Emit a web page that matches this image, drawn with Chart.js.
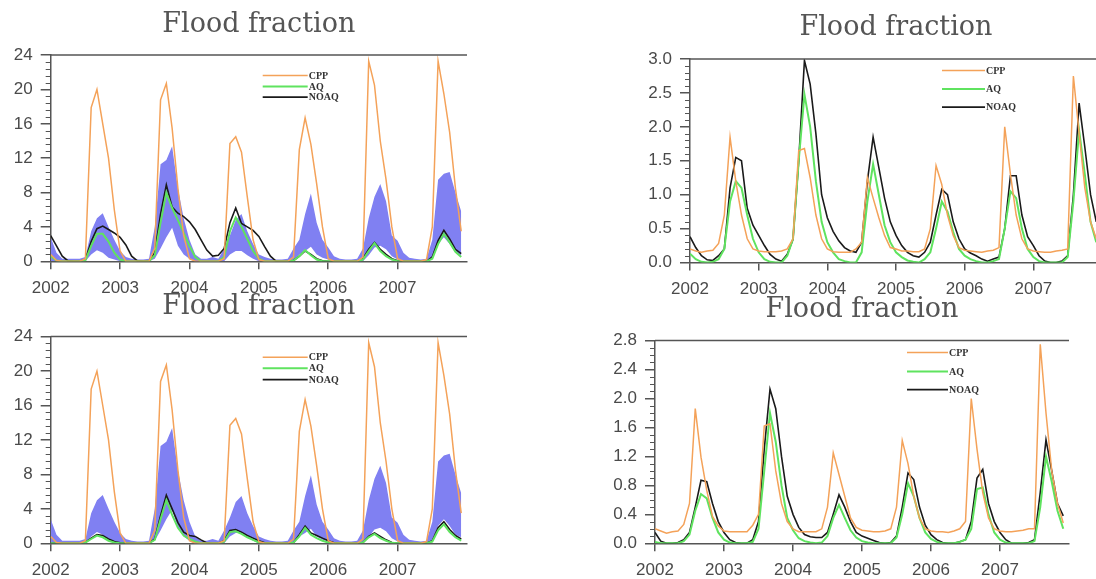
<!DOCTYPE html>
<html>
<head>
<meta charset="utf-8">
<title>Flood fraction</title>
<script src="https://cdn.jsdelivr.net/npm/chart.js@4.4.1/dist/chart.umd.min.js"></script>
<style>
  html, body { margin:0; padding:0; background:#fff; }
  body { width:1096px; height:579px; position:relative; overflow:hidden; }
  canvas { position:absolute; }
</style>
</head>
<body>
<canvas id="tl" width="548" height="300" style="left:0;top:0"></canvas>
<canvas id="tr" width="560" height="300" style="left:548px;top:0"></canvas>
<canvas id="bl" width="548" height="289" style="left:0;top:290px"></canvas>
<canvas id="br" width="548" height="289" style="left:548px;top:290px"></canvas>
<script>
// monthly series, Jan 2002 .. Dec 2007 (72 values each)
const firstYear = 2002;
const yearLabels = ['2002', '2003', '2004', '2005', '2006', '2007'];
const leftTicks = [0, 4, 8, 12, 16, 20, 24];
const topRightTicks = [0, 0.5, 1, 1.5, 2, 2.5, 3];
const bottomRightTicks = [0, 0.4, 0.8, 1.2, 1.6, 2, 2.4, 2.8];

const cppLeft = [0.8,0.1,0,0,0,0,0.3,17.9,20,16,12,6,
  1.2,0,0,0,0,0,1.5,18.8,20.7,15.5,8.5,3,
  0.3,0,0,0,0,0,0.3,13.7,14.5,12.7,7.5,2.5,
  0.2,0,0,0,0,0,0.5,13,16.7,13.6,9,4,
  0.3,0,0,0,0,0,0.5,23.3,20.5,14,9.5,4,
  0.3,0,0,0,0,0.2,4,23.3,19.5,15,8.5,3.5];
const aqTopLeft = [0.6,0.1,0,0,0,0,0.1,1.8,3.2,3.2,2.3,1.0,
  0.2,0,0,0,0,0,0.7,4.5,8.0,6.2,4.8,3.3,
  1.8,0.5,0,0,0,0,0.5,3.5,5.1,4.0,2.6,1.2,
  0.3,0,0,0,0,0,0.1,0.6,1.3,0.7,0.2,0,
  0,0,0,0,0,0,0.2,1.2,2.1,1.2,0.6,0.2,
  0,0,0,0,0,0,0.3,2.0,3.2,2.2,1.1,0.5];
const noaqTopLeft = [3.0,1.8,0.6,0.05,0,0,0.2,2.3,3.8,4.1,3.7,3.3,
  2.8,1.9,0.6,0.05,0,0,1.0,5.5,8.9,6.3,5.6,5.2,
  4.6,3.7,2.5,1.3,0.6,0.7,1.5,4.5,6.2,4.4,4.0,3.6,
  2.9,1.7,0.6,0,0,0,0.1,0.6,1.2,0.8,0.3,0.05,
  0,0,0,0,0,0,0.3,1.4,2.2,1.4,0.8,0.3,
  0.05,0,0,0,0,0,0.5,2.4,3.6,2.6,1.4,0.9];
const aqBottomLeft = [0,0,0,0,0,0,0.1,0.5,0.9,0.7,0.3,0.1,
  0,0,0,0,0,0,0.4,2.8,5.0,3.3,1.8,0.9,
  0.5,0.2,0,0,0,0,0.2,1.3,1.4,1.1,0.7,0.4,
  0.1,0,0,0,0,0,0.1,0.8,1.8,1.0,0.6,0.3,
  0.1,0,0,0,0,0,0.1,0.7,1.1,0.6,0.3,0.05,
  0,0,0,0,0,0,0.2,1.5,2.2,1.3,0.7,0.3];
const noaqBottomLeft = [0,0,0,0,0,0,0.1,0.6,1.0,0.9,0.5,0.2,
  0.05,0,0,0,0,0,0.5,3.2,5.6,4.0,2.4,1.3,
  0.9,0.8,0.4,0.05,0,0,0.3,1.5,1.6,1.3,0.9,0.6,
  0.3,0.05,0,0,0,0,0.1,1.0,2.0,1.2,0.9,0.6,
  0.3,0.05,0,0,0,0,0.1,0.8,1.2,0.8,0.4,0.1,
  0,0,0,0,0,0,0.3,1.8,2.5,1.6,0.9,0.5];
// ensemble spread (same band in both left panels)
const spreadHigh = [2.8,1.0,0.3,0.3,0.3,0.3,0.5,3.5,5.0,5.6,4.0,2.5,
  1.2,0.5,0.3,0.2,0.2,0.3,4.0,11.3,11.8,13.4,8.5,5.0,
  2.5,0.8,0.3,0.3,0.5,0.3,1.5,3.0,4.8,5.5,3.5,2.0,
  0.8,0.5,0.3,0.2,0.2,0.3,1.5,2.5,5.5,7.9,4.5,2.5,
  1.6,0.6,0.3,0.2,0.2,0.3,1.5,5.0,7.5,9.0,7.0,3.0,
  2.4,1.0,0.4,0.3,0.2,0.3,2.5,9.5,10.2,10.4,8.0,5.8];
const spreadLow = [0,0,0,0,0,0,0,0.8,1.3,1.0,0.4,0.2,
  0,0,0,0,0,0,0.3,1.5,2.8,3.9,1.8,0.8,
  0.3,0,0,0,0,0,0,0.8,1.2,1.2,0.7,0.3,
  0,0,0,0,0,0,0,0.8,1.2,1.7,0.8,0.4,
  0.2,0,0,0,0,0,0,0.7,1.6,1.8,1.4,0.6,
  0.2,0,0,0,0,0,0.3,2.0,2.8,2.0,1.0,0.7];

const cppTopRight = [0.2,0.17,0.15,0.17,0.18,0.28,0.7,1.85,1.2,0.7,0.35,0.2,
  0.17,0.16,0.16,0.16,0.17,0.2,0.35,1.65,1.68,1.25,0.7,0.35,
  0.2,0.16,0.15,0.15,0.15,0.2,0.3,1.25,0.95,0.66,0.4,0.22,
  0.2,0.17,0.17,0.16,0.16,0.2,0.5,1.43,1.15,0.7,0.4,0.22,
  0.18,0.17,0.16,0.15,0.17,0.18,0.22,2.0,1.3,0.7,0.35,0.2,
  0.17,0.16,0.15,0.15,0.17,0.18,0.2,2.75,1.9,1.1,0.6,0.35];
const aqTopRight = [0.13,0.05,0.01,0,0.01,0.05,0.2,0.9,1.2,1.1,0.7,0.35,
  0.15,0.05,0.01,0,0,0.1,0.35,1.5,2.48,2.0,1.2,0.6,
  0.3,0.15,0.05,0.02,0,0,0.15,0.9,1.45,1.0,0.55,0.3,
  0.15,0.08,0.03,0.01,0,0.05,0.15,0.5,0.9,0.75,0.45,0.2,
  0.1,0.05,0.02,0,0,0.02,0.05,0.5,1.05,0.95,0.5,0.2,
  0.08,0.02,0,0,0,0,0.08,0.9,1.95,1.3,0.6,0.3];
const noaqTopRight = [0.38,0.22,0.1,0.04,0.03,0.1,0.2,1.1,1.55,1.5,0.8,0.55,
  0.4,0.25,0.12,0.05,0.02,0.12,0.34,1.5,2.98,2.63,1.9,1.0,
  0.66,0.46,0.32,0.22,0.17,0.15,0.3,1.2,1.85,1.4,0.95,0.6,
  0.4,0.25,0.15,0.1,0.08,0.15,0.3,0.7,1.08,1.0,0.6,0.35,
  0.2,0.14,0.1,0.05,0.02,0.05,0.08,0.5,1.28,1.28,0.7,0.38,
  0.25,0.1,0.02,0,0,0.02,0.1,1.0,2.35,1.7,1.0,0.6];

const cppBottomRight = [0.2,0.17,0.14,0.16,0.17,0.26,0.55,1.86,1.19,0.73,0.37,0.24,
  0.17,0.16,0.16,0.16,0.16,0.25,0.4,1.62,1.65,1.0,0.55,0.3,
  0.2,0.16,0.16,0.16,0.16,0.2,0.5,1.25,0.95,0.65,0.35,0.22,
  0.18,0.17,0.16,0.16,0.17,0.2,0.5,1.42,1.1,0.65,0.35,0.2,
  0.17,0.16,0.16,0.15,0.17,0.2,0.3,2.0,1.3,0.7,0.35,0.2,
  0.17,0.16,0.16,0.17,0.18,0.2,0.2,2.75,1.8,1.0,0.55,0.28];
const aqBottomRight = [0.02,0,0,0,0,0.03,0.12,0.45,0.68,0.62,0.35,0.15,
  0.05,0.01,0,0,0,0.02,0.2,1.0,1.8,1.4,0.8,0.35,
  0.18,0.07,0.03,0.01,0,0.01,0.1,0.35,0.53,0.35,0.18,0.08,
  0.03,0.01,0,0,0,0,0.08,0.4,0.83,0.65,0.35,0.15,
  0.06,0.02,0,0,0,0.02,0.05,0.2,0.75,0.77,0.4,0.15,
  0.05,0.01,0,0,0,0,0.03,0.5,1.2,0.85,0.45,0.2];
const noaqBottomRight = [0.15,0.03,0,0,0.01,0.05,0.15,0.5,0.87,0.85,0.55,0.3,
  0.15,0.05,0.01,0,0,0.05,0.3,1.3,2.13,1.86,1.2,0.65,
  0.4,0.22,0.12,0.09,0.08,0.08,0.15,0.4,0.67,0.5,0.3,0.15,
  0.1,0.07,0.04,0.01,0,0.01,0.1,0.5,0.97,0.88,0.5,0.25,
  0.12,0.05,0.01,0,0,0.02,0.05,0.3,0.9,1.02,0.55,0.3,
  0.15,0.05,0,0,0,0.01,0.05,0.7,1.43,1.0,0.55,0.38];

// colours
const ORANGE = '#f4a259', GREEN = '#5fe35f', BLACK = '#1a1a1a', BLUE = '#8080f2';
const AXIS = '#555', AXIS_TEXT = '#4a4a4a';

// month index -> fractional year on the linear x scale
const pts = arr => arr.map((v, i) => ({x: firstYear + i / 12, y: v}));
const line = (label, arr, color, w) => ({label, data: pts(arr), borderColor: color, borderWidth: w,
  pointRadius: 0, fill: false, tension: 0});

// top frame line, minor y ticks and the in-plot key
const framePlugin = {
  id: 'frame',
  afterDraw(chart, args, opts){
    const {ctx, chartArea: a, scales: {y}} = chart;
    ctx.save();
    ctx.strokeStyle = AXIS; ctx.lineWidth = 1.5;
    ctx.beginPath(); ctx.moveTo(a.left, a.top); ctx.lineTo(a.right, a.top); ctx.stroke();

    ctx.lineWidth = 1;
    ctx.beginPath();
    const n = Math.round(y.max / opts.minor);
    for(let i = 1; i < n; i++){
      const v = i * opts.minor;
      const r = v / opts.major;
      if(Math.abs(r - Math.round(r)) < 1e-6) continue;
      const py = Math.round(y.getPixelForValue(v)) + 0.5;
      ctx.moveTo(a.left, py); ctx.lineTo(a.left - 5, py);
    }
    ctx.stroke();

    // key: short line then label, top to bottom
    ctx.font = 'bold 10px "Liberation Serif"';
    ctx.textBaseline = 'middle';
    ctx.fillStyle = '#333';
    opts.rows.forEach((ry, i) => {
      const d = chart.data.datasets[i];
      const yy = a.top + ry;
      ctx.strokeStyle = d.borderColor; ctx.lineWidth = d.borderWidth;
      ctx.beginPath(); ctx.moveTo(a.left + opts.x0, yy); ctx.lineTo(a.left + opts.x1, yy); ctx.stroke();
      ctx.fillText(d.label, a.left + opts.x1 + 1, yy + 0.5);
    });
    ctx.restore();
  }
};

function makePanel(id, o){
  const ds = [line('CPP', o.cpp, ORANGE, 1.5), line('AQ', o.aq, GREEN, 2), line('NOAQ', o.noaq, BLACK, 1.6)];
  if(o.hi){
    ds.push({label: 'spread', data: pts(o.hi), borderWidth: 0, pointRadius: 0, backgroundColor: BLUE, fill: '+1'});
    ds.push({label: 'spread low', data: pts(o.lo), borderWidth: 0, pointRadius: 0, fill: false});
  }
  return new Chart(document.getElementById(id), {
    type: 'line',
    data: {datasets: ds},
    plugins: [framePlugin],
    options: {
      responsive: false, animation: false, events: [],
      layout: {padding: o.pad},
      plugins: {
        legend: {display: false}, tooltip: {enabled: false},
        title: {display: true, text: 'Flood fraction', fullSize: false, color: '#555',
          font: {family: 'DejaVu Serif', size: 27, weight: 'normal', lineHeight: 1.2},
          padding: {top: 0, bottom: o.titleGap}},
        frame: {minor: o.minor, major: o.ticks[1], x0: o.keyX[0], x1: o.keyX[1], rows: o.keyRows}
      },
      scales: {
        x: {type: 'linear', min: firstYear, max: firstYear + 6,
          afterBuildTicks: s => { s.ticks = yearLabels.map(v => ({value: Number(v)})); },
          afterFit: s => { s.height = o.xH; },
          ticks: {callback: v => String(v), color: AXIS_TEXT, padding: 9, maxRotation: 0, autoSkip: false,
            font: {family: 'Liberation Sans', size: 17}},
          grid: {drawOnChartArea: false, tickLength: 8, color: AXIS, lineWidth: 1.5},
          border: {color: AXIS, width: 1.5}},
        y: {min: 0, max: o.ticks[o.ticks.length - 1],
          afterBuildTicks: s => { s.ticks = o.ticks.map(v => ({value: v})); },
          afterFit: s => { s.width = 45; },
          ticks: {callback: v => o.fmt(v), color: AXIS_TEXT, padding: 8,
            font: {family: 'Liberation Sans', size: 17}},
          grid: {drawOnChartArea: false, tickLength: 10, color: AXIS, lineWidth: 1.5},
          border: {color: AXIS, width: 1.5}}
      }
    }
  });
}

const intFmt = v => String(v);
const oneDp = v => v.toFixed(1);

makePanel('tl', {cpp: cppLeft, aq: aqTopLeft, noaq: noaqTopLeft, hi: spreadHigh, lo: spreadLow,
  ticks: leftTicks, minor: 0.8, fmt: intFmt,
  pad: {left: 5.7, right: 81, top: 8.3, bottom: 2.7}, titleGap: 14.4, xH: 36,
  keyX: [212, 257], keyRows: [20.5, 31.5, 42]});
makePanel('bl', {cpp: cppLeft, aq: aqBottomLeft, noaq: noaqBottomLeft, hi: spreadHigh, lo: spreadLow,
  ticks: leftTicks, minor: 0.8, fmt: intFmt,
  pad: {left: 5.7, right: 81, top: 0.6, bottom: 2.7}, titleGap: 13.6, xH: 33,
  keyX: [212, 257], keyRows: [20.7, 31.7, 43]});
makePanel('tr', {cpp: cppTopRight, aq: aqTopRight, noaq: noaqTopRight,
  ticks: topRightTicks, minor: 0.1, fmt: oneDp,
  pad: {left: 97, right: 6, top: 11.3, bottom: 1.5}, titleGap: 15.4, xH: 36,
  keyX: [252, 295], keyRows: [11.5, 29.8, 48]});
makePanel('br', {cpp: cppBottomRight, aq: aqBottomRight, noaq: noaqBottomRight,
  ticks: bottomRightTicks, minor: 0.1, fmt: oneDp,
  pad: {left: 62, right: 27, top: 3.3, bottom: 2.7}, titleGap: 14.9, xH: 33,
  keyX: [252, 293], keyRows: [12, 31, 49]});
</script>
</body>
</html>
